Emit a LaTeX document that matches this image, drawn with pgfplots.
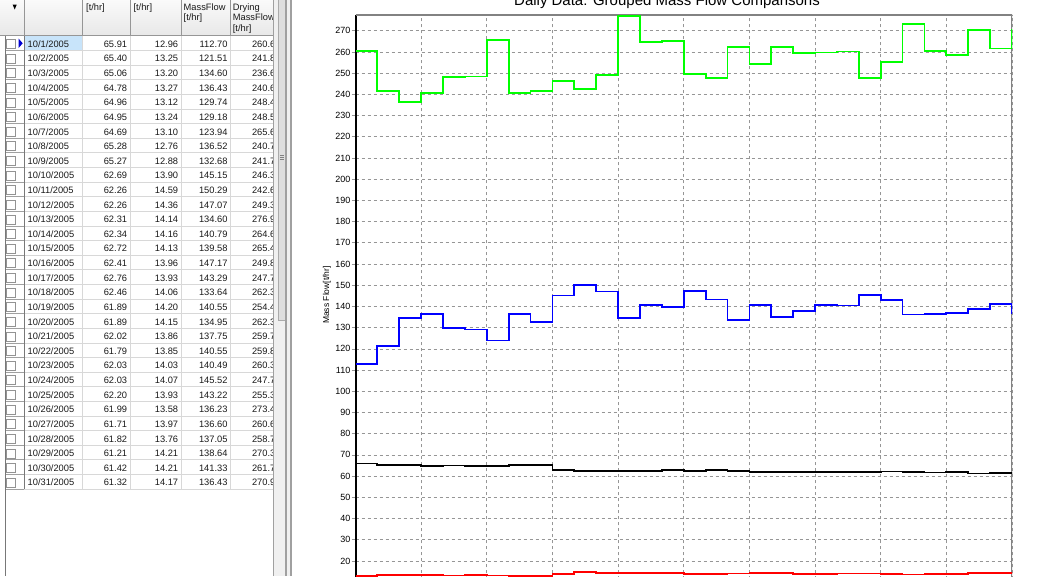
\documentclass[border=0pt]{standalone}
\usepackage{fontspec}
\setmainfont{Liberation Sans}
\usepackage{pgfplots}
\usepackage{pgfplotstable}
\pgfplotsset{compat=1.18}

\pgfplotstableread{
x steam cond mass dry
0 65.91 12.96 112.70 260.6
1 65.40 13.25 121.51 241.8
2 65.06 13.20 134.60 236.6
3 64.78 13.27 136.43 240.6
4 64.96 13.12 129.74 248.4
5 64.95 13.24 129.18 248.5
6 64.69 13.10 123.94 265.6
7 65.28 12.76 136.52 240.7
8 65.27 12.88 132.68 241.7
9 62.69 13.90 145.15 246.3
10 62.26 14.59 150.29 242.6
11 62.26 14.36 147.07 249.3
12 62.31 14.14 134.60 276.9
13 62.34 14.16 140.79 264.6
14 62.72 14.13 139.58 265.4
15 62.41 13.96 147.17 249.8
16 62.76 13.93 143.29 247.7
17 62.46 14.06 133.64 262.3
18 61.89 14.20 140.55 254.4
19 61.89 14.15 134.95 262.3
20 62.02 13.86 137.75 259.7
21 61.79 13.85 140.55 259.8
22 62.03 14.03 140.49 260.3
23 62.03 14.07 145.52 247.7
24 62.20 13.93 143.22 255.3
25 61.99 13.58 136.23 273.4
26 61.71 13.97 136.60 260.6
27 61.82 13.76 137.05 258.7
28 61.21 14.21 138.64 270.3
29 61.42 14.21 141.33 261.7
30 61.32 14.17 136.43 270.9
}\dailydata

\definecolor{gridgray}{RGB}{150,150,150}
\definecolor{framegray}{RGB}{130,130,130}
\definecolor{hdrtop}{RGB}{250,250,250}
\definecolor{hdrbot}{RGB}{232,232,232}
\definecolor{hdrsep}{RGB}{150,150,150}
\definecolor{rowline}{RGB}{216,216,216}
\definecolor{colzero}{RGB}{120,120,120}
\definecolor{selblue}{RGB}{200,228,250}
\definecolor{arrowblue}{RGB}{0,0,210}
\definecolor{panelgray}{RGB}{240,240,240}
\definecolor{thumbfill}{RGB}{222,222,222}
\definecolor{thumbline}{RGB}{170,170,170}
\definecolor{splitline}{RGB}{160,160,160}
\definecolor{cellText}{RGB}{25,25,25}
\definecolor{limegreen}{RGB}{0,255,0}
\definecolor{pureblue}{RGB}{0,0,255}
\definecolor{purered}{RGB}{255,0,0}

\newcommand{\tablefont}{\fontsize{9.3}{10}\selectfont}

\begin{document}
\begin{tikzpicture}[x=1pt,y=1pt]
\useasboundingbox (0,0) rectangle (1038,576);
\clip (0,0) rectangle (1038,576);
\fill[white] (0,0) rectangle (1038,576);

% ---------------- table panel ----------------
\shade[top color=hdrtop, bottom color=hdrbot] (0,540.5) rectangle (273.5,576);
\draw[hdrsep, line width=1.2pt] (0,540.2) -- (273.5,540.2);
\foreach \xx in {24,82.7,130,181,230} {
  \draw[hdrsep, line width=0.8pt] (\xx,540.5) -- (\xx,576);
}
\fill[black] (12.7,571.3) -- (16.7,571.3) -- (14.7,566.5) -- cycle;

\begin{scope}[font=\tablefont, text=cellText]
\node[anchor=base west, inner sep=0] at (86,565.5) {[t/hr]};
\node[anchor=base west, inner sep=0] at (133.3,565.5) {[t/hr]};
\node[anchor=base west, inner sep=0] at (183.5,565.5) {MassFlow};
\node[anchor=base west, inner sep=0] at (183.5,555) {[t/hr]};
\node[anchor=base west, inner sep=0] at (232.7,565.5) {Drying};
\node[anchor=base west, inner sep=0] at (232.7,555) {MassFlow};
\node[anchor=base west, inner sep=0] at (232.7,544.5) {[t/hr]};
\end{scope}

% selected cell
\fill[selblue] (24.5,539.6) rectangle (82.2,526.0);

% grid lines of the body
\foreach \k in {1,...,31} {
  \draw[rowline, line width=0.8pt] (24,{540.1-14.62*\k}) -- (273.5,{540.1-14.62*\k});
  \draw[colzero!70, line width=0.8pt] (5.5,{540.1-14.62*\k}) -- (24,{540.1-14.62*\k});
}
\foreach \xx in {82.7,130,181,230} {
  \draw[rowline, line width=0.8pt] (\xx,540.1) -- (\xx,86.9);
}
\draw[colzero, line width=1pt] (24,540.1) -- (24,86.9);
\draw[colzero, line width=1pt] (5.5,540.1) -- (5.5,0);

% checkboxes
\foreach \i in {1,...,31} {
  \draw[colzero!80, line width=0.7pt, fill=white] (6.8,{532-14.62*(\i-1)-4.5}) rectangle ++(9,9);
}
\fill[arrowblue] (18.5,537.5) -- (22.7,532.7) -- (18.5,527.9) -- cycle;

% cell texts
\begin{scope}[font=\tablefont, text=cellText]
\foreach \i/\a/\b/\c/\e in {
1/65.91/12.96/112.70/260.6,
2/65.40/13.25/121.51/241.8,
3/65.06/13.20/134.60/236.6,
4/64.78/13.27/136.43/240.6,
5/64.96/13.12/129.74/248.4,
6/64.95/13.24/129.18/248.5,
7/64.69/13.10/123.94/265.6,
8/65.28/12.76/136.52/240.7,
9/65.27/12.88/132.68/241.7,
10/62.69/13.90/145.15/246.3,
11/62.26/14.59/150.29/242.6,
12/62.26/14.36/147.07/249.3,
13/62.31/14.14/134.60/276.9,
14/62.34/14.16/140.79/264.6,
15/62.72/14.13/139.58/265.4,
16/62.41/13.96/147.17/249.8,
17/62.76/13.93/143.29/247.7,
18/62.46/14.06/133.64/262.3,
19/61.89/14.20/140.55/254.4,
20/61.89/14.15/134.95/262.3,
21/62.02/13.86/137.75/259.7,
22/61.79/13.85/140.55/259.8,
23/62.03/14.03/140.49/260.3,
24/62.03/14.07/145.52/247.7,
25/62.20/13.93/143.22/255.3,
26/61.99/13.58/136.23/273.4,
27/61.71/13.97/136.60/260.6,
28/61.82/13.76/137.05/258.7,
29/61.21/14.21/138.64/270.3,
30/61.42/14.21/141.33/261.7,
31/61.32/14.17/136.43/270.9} {
  \node[anchor=base west, inner sep=0] at (27.5,{528.7-14.62*(\i-1)}) {10/\i/2005};
  \node[anchor=base east, inner sep=0] at (127.3,{528.7-14.62*(\i-1)}) {\a};
  \node[anchor=base east, inner sep=0] at (178.3,{528.7-14.62*(\i-1)}) {\b};
  \node[anchor=base east, inner sep=0] at (227.7,{528.7-14.62*(\i-1)}) {\c};
  \begin{scope}
    \clip (230,0) rectangle (273.2,576);
    \node[anchor=base east, inner sep=0] at (275.5,{528.7-14.62*(\i-1)}) {\e};
  \end{scope}
}
\end{scope}

% splitter / scrollbar
\fill[panelgray] (273.5,0) rectangle (291,576);
\draw[splitline, line width=0.8pt] (273.5,0) -- (273.5,576);
\draw[thumbline, fill=thumbfill, line width=0.7pt] (278.5,256) rectangle (285,578);
\foreach \dy in {-2,0,2} {
  \draw[gray, line width=0.6pt] (279.8,{419+\dy}) -- (283.7,{419+\dy});
}
\draw[splitline, line width=1.6pt] (286,0) -- (286,576);
\draw[splitline, line width=1.6pt] (291,0) -- (291,576);

% ---------------- chart ----------------
\node[anchor=base, inner sep=0, font=\fontsize{15}{18}\selectfont] at (667,570) {Daily Data: Grouped Mass Flow Comparisons};

\begin{axis}[
  at={(355.5pt,-27.3pt)}, anchor=south west,
  scale only axis, width=656.5pt, height=588.3pt,
  xmin=0, xmax=30, ymin=0, ymax=277.5,
  axis lines=left,
  axis line style={-},
  y axis line style={black, line width=2pt},
  xtick={0,3,...,30}, xticklabels={,,,,,,,,,,},
  ytick={20,30,...,270},
  tick align=outside,
  major tick length=4pt,
  tick style={gridgray, line width=0.8pt},
  grid=major,
  major grid style={gridgray, line width=0.8pt, dash pattern=on 3pt off 3pt},
  /pgf/number format/assume math mode=true,
  yticklabel style={font=\fontsize{9}{10}\selectfont, text=black, inner sep=1pt},
  ylabel={Mass Flow[t/hr]},
  ylabel style={font=\fontsize{8.5}{10}\selectfont, at={(axis description cs:-0.0434,0.524)}, anchor=center},
]
\draw[framegray, line width=1.6pt] (rel axis cs:0,1) -- (rel axis cs:1,1) -- (rel axis cs:1,0);
\addplot[const plot, black, line width=1.8pt] table[x=x, y=steam] {\dailydata};
\addplot[const plot, purered, line width=1.8pt] table[x=x, y=cond] {\dailydata};
\addplot[const plot, pureblue, line width=1.8pt] table[x=x, y=mass] {\dailydata};
\addplot[const plot, limegreen, line width=1.8pt] table[x=x, y=dry] {\dailydata};
\end{axis}
\end{tikzpicture}
\end{document}
